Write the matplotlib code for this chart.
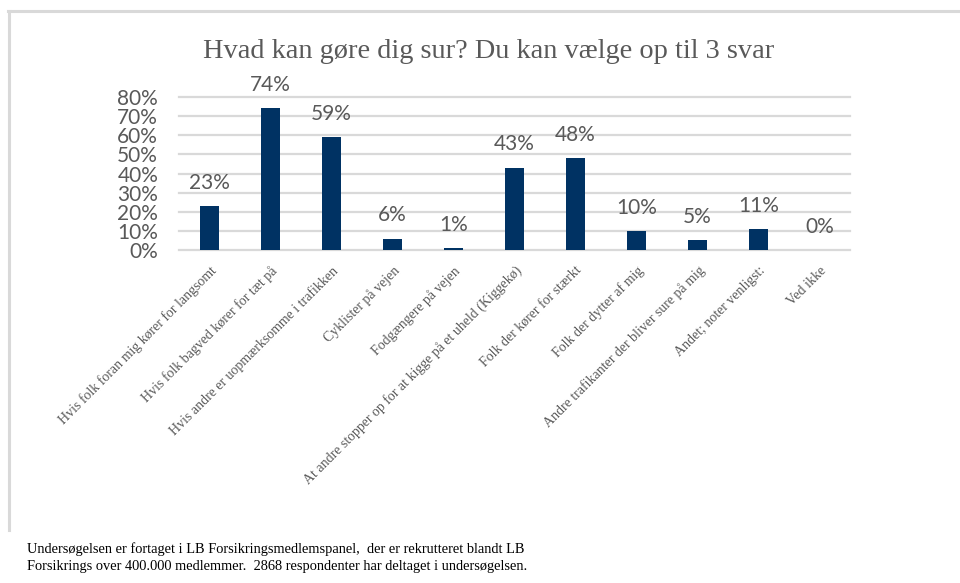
import matplotlib.pyplot as plt
from matplotlib.lines import Line2D
import numpy as np

# Data
categories = [
    'Hvis folk foran mig kører for langsomt',
    'Hvis folk bagved kører for tæt på',
    'Hvis andre er uopmærksomme i trafikken',
    'Cyklister på vejen',
    'Fodgængere på vejen',
    'At andre stopper op for at kigge på et uheld (Kiggekø)',
    'Folk der kører for stærkt',
    'Folk der dytter af mig',
    'Andre trafikanter der bliver sure på mig',
    'Andet; noter venligst:',
    'Ved ikke',
]
values = [0.23, 0.74, 0.59, 0.06, 0.01, 0.43, 0.48, 0.10, 0.05, 0.11, 0.00]
yticks = [0.0, 0.1, 0.2, 0.3, 0.4, 0.5, 0.6, 0.7, 0.8]

title = 'Hvad kan gøre dig sur? Du kan vælge op til 3 svar'
footnote = ('Undersøgelsen er fortaget i LB Forsikringsmedlemspanel,  der er rekrutteret blandt LB\n'
            'Forsikrings over 400.000 medlemmer.  2868 respondenter har deltaget i undersøgelsen.')

bar_color = '#003263'
text_gray = '#595959'
grid_gray = '#d9d9d9'
sans = ['Lato', 'DejaVu Sans']
serif = ['Liberation Serif', 'DejaVu Serif']

W, H = 960, 583
fig = plt.figure(figsize=(W / 100, H / 100), dpi=100)

# outer frame (top and left edges)
fig.add_artist(Line2D([8 / W, 1], [1 - 11 / H, 1 - 11 / H], color=grid_gray, lw=2.2))
fig.add_artist(Line2D([9 / W, 9 / W], [1 - 11 / H, 1 - 530 / H], color=grid_gray, lw=2.2))

ax = fig.add_axes([179 / W, (H - 250) / H, 671 / W, 153 / H])
x = np.arange(len(categories))
ax.bar(x, values, width=0.31, color=bar_color, zorder=3)

ax.set_xlim(-0.5, len(categories) - 0.5)
ax.set_ylim(0, 0.8)
for t in yticks:
    ax.axhline(t, color=grid_gray, lw=1.6, zorder=1, clip_on=False)

for s in ax.spines.values():
    s.set_visible(False)

ax.set_yticks(yticks)
ax.set_yticklabels([f'{int(round(t * 100))}%' for t in yticks],
                   fontfamily=sans, fontsize=15, color=text_gray)
ax.tick_params(axis='y', length=0, pad=15)

ax.set_xticks(x)
ax.set_xticklabels(categories, rotation=45, ha='right', rotation_mode='anchor',
                   fontfamily=serif, fontsize=10, color=text_gray)
ax.tick_params(axis='x', length=0, pad=10)

for xi, v in zip(x, values):
    ax.annotate(f'{int(round(v * 100))}%', (xi, v), xytext=(0, 12.5),
                textcoords='offset points', ha='center', va='baseline',
                fontfamily=sans, fontsize=15, color=text_gray)

fig.text(489 / W, 1 - 52 / H, title, ha='center', va='center',
         fontfamily=serif, fontsize=20.4, color=text_gray)

fig.text(27 / W, 1 - 542 / H, footnote, ha='left', va='top',
         fontfamily=serif, fontsize=10.4, color='black', linespacing=1.45)

fig.savefig('out.png', dpi=100, facecolor='white')
